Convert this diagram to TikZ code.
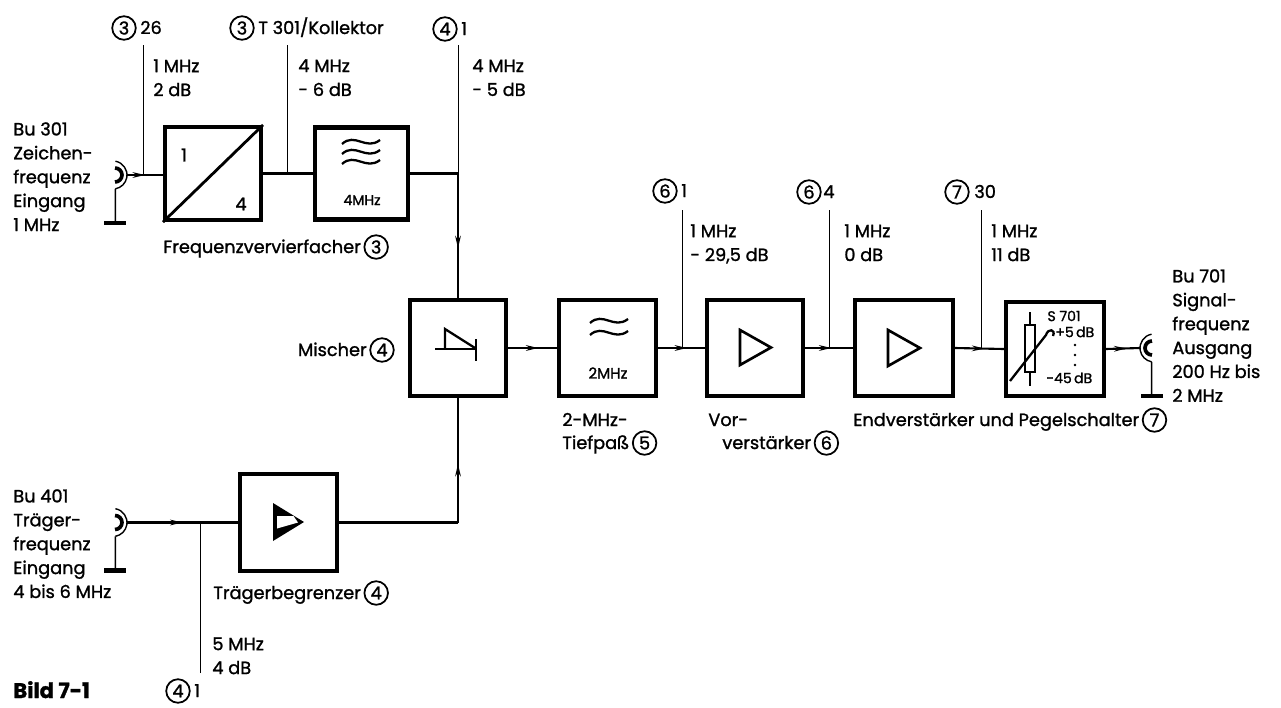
\documentclass[tikz,border=0pt]{standalone}
\usepackage{fontspec}
\setmainfont{Poppins}[FakeBold=1.3]
\usetikzlibrary{arrows.meta,decorations.markings}
\newcommand\lbl{\fontsize{10.1pt}{13.6pt}\selectfont}
\newcommand\smlbl{\fontsize{8pt}{9pt}\selectfont}
\tikzset{
 blk/.style={draw, line width=2.3pt, inner sep=0pt},
 conn/.style={line width=1.2pt},
 probe/.style={line width=0.55pt},
 sym/.style={line width=1.3pt},
 num/.style={circle, draw, line width=1pt, minimum size=13.4pt, inner sep=0pt, font=\lbl},
 txt/.style={inner sep=0pt, font=\lbl, align=left},
 marr/.style={postaction={decorate, decoration={markings, mark=at position #1 with {\arrow{Stealth[length=7pt,width=3.2pt]}}}}},
 jackin/.pic={
   \draw[line width=0.8pt] (-80:14) arc (-80:80:14);
   \draw[line width=2.1pt] (2,-7) arc (-90:90:7);
   \draw[line width=0.9pt] (80:14) -- (2.4,48);
   \draw[line width=2.4pt] (-9,48) -- (13,48);
 }
}
\begin{document}
\begin{tikzpicture}[x=0.02cm,y=-0.02cm]
\useasboundingbox (0,0) rectangle (1281,707);

% ---------- blocks
\node[blk, minimum width=1.92cm, minimum height=1.86cm] (fv) at (213,173.5) {};
\node[blk, minimum width=1.86cm, minimum height=1.84cm] (tp4) at (361.5,173.5) {};
\node[blk, minimum width=1.92cm, minimum height=1.92cm] (mix) at (458,348) {};
\node[blk, minimum width=1.94cm, minimum height=1.92cm] (tp2) at (607.5,348) {};
\node[blk, minimum width=1.92cm, minimum height=1.92cm] (vor) at (755,348) {};
\node[blk, minimum width=1.96cm, minimum height=1.92cm] (end) at (904,348) {};
\node[blk, minimum width=1.96cm, minimum height=1.88cm] (peg) at (1055,349) {};
\node[blk, minimum width=1.94cm, minimum height=1.94cm] (lim) at (288.5,522.5) {};

% ---------- jacks
\pic at (113,175) {jackin};
\pic at (113,522.5) {jackin};
\pic[xscale=-1] at (1154,348) {jackin};
\coordinate (j1) at (127,175);
\coordinate (j2) at (127,522.5);
\coordinate (j3) at (1140,348);

% ---------- connections
\draw[conn, marr=0.5] (j1) -- (j1 -| fv.west);
\draw[conn] (fv.east) -- (tp4.west);
\coordinate (k1) at (458,173.5);
\draw[conn] (tp4.east) -- (k1);
\draw[conn, marr=0.6] (k1) -- (mix.north);
\draw[conn, marr=0.5] (j2) -- (lim.west);
\coordinate (k2) at (458,522.5);
\draw[conn] (lim.east) -- (k2);
\draw[conn, marr=0.47] (k2) -- (mix.south);
\draw[conn, marr=0.62] (mix.east) -- (tp2.west);
\draw[conn, marr=0.62] (tp2.east) -- (vor.west);
\draw[conn, marr=0.55] (vor.east) -- (end.west);
\draw[conn, marr=0.6] (end.east) -- (peg.west);
\draw[conn, marr=0.6] (peg.east) -- (j3);

% ---------- probes
\coordinate (p1) at (143,45);  \draw[probe] (p1) -- (p1 |- j1);
\coordinate (p2) at (287,45);  \draw[probe] (p2) -- (p2 |- fv.east);
\coordinate (p3) at (458,45);  \draw[probe] (p3) -- (k1);
\coordinate (p4) at (682,210); \draw[probe] (p4) -- (p4 |- tp2.east);
\coordinate (p5) at (829,210); \draw[probe] (p5) -- (p5 |- vor.east);
\coordinate (p6) at (981,210); \draw[probe] (p6) -- (p6 |- end.east);
\coordinate (p7) at (200,673); \draw[probe] (p7) -- (p7 |- j2);

% ---------- block symbols
\draw[line width=1.6pt] (fv.south west) -- (fv.north east);
\node[txt] (fv1) at (184,155) {1};
\node[txt] (fv4) at (241,204) {4};
\foreach \yy in {142,152,162}
  \draw[sym] (342,\yy+2) .. controls (355,\yy-10) and (366,\yy+9) .. (380,\yy-2);
\node[inner sep=0pt, font=\smlbl] (f4) at (362,200) {4MHz};
\foreach \yy in {321,333}
  \draw[sym] (590,\yy+2) .. controls (603,\yy-10) and (614,\yy+9) .. (628,\yy-2);
\node[inner sep=0pt, font=\fontsize{8.6pt}{9pt}\selectfont] (f2) at (608,373) {2MHz};
% diode
\draw[sym] (435,349) -- (476,349);
\draw[sym] (445,349) -- (445,329) -- (475,348);
\draw[line width=1.7pt] (476,339) -- (476,361);
% amplifiers
\draw[line width=1.5pt, line join=miter] (740,330) -- (771,347.5) -- (740,365) -- cycle;
\draw[line width=1.5pt, line join=miter] (888,330) -- (920,348) -- (888,366) -- cycle;
% limiter
\fill (273,503) -- (304,522) -- (273,541) -- cycle;
\fill[white] (277,516) -- (293.5,516) -- (298,522.5) -- (277,528.5) -- cycle;
% level switch
\draw[sym] (1025,325) rectangle (1035,372);
\draw[sym] (1030,312) -- (1030,325) (1030,372) -- (1030,386);
\draw[sym] (1010,381) -- (1046,335) .. controls (1048,328) and (1056,329) .. (1053,336);
\node[inner sep=0pt, font=\smlbl] (s1) at (1064,316) {S 701};
\node[inner sep=0pt, font=\smlbl, anchor=west] (s2) at (1055,332) {+5\,dB};
\foreach \yy in {345,355,365} \fill (1075,\yy) circle (1.3);
\node[inner sep=0pt, font=\smlbl, anchor=west] (s3) at (1046,378) {-45\,dB};

% ---------- reference marks
\node[num] (c1) at (124,28) {3};
\node[txt, anchor=base west] (r1) at (140,34) {26};
\node[num] (c2) at (242,28) {3};
\node[txt, anchor=base west] (r2) at (258,34) {T 301/Kollektor};
\node[num] (c3) at (445,29) {4};
\node[txt, anchor=base west] (r3) at (461,35) {1};
\node[num] (c4) at (665,191) {6};
\node[txt, anchor=base west] (r4) at (681,197) {1};
\node[num] (c5) at (809,192) {6};
\node[txt, anchor=base west] (r5) at (823,198) {4};
\node[num] (c6) at (957,192) {7};
\node[txt, anchor=base west] (r6) at (974,198) {30};
\node[num] (c7) at (178,691) {4};
\node[txt, anchor=base west] (r7) at (194,697) {1};

% ---------- probe values
\node[txt, anchor=north west] (v1) at (153,59) {1 MHz\\2 dB};
\node[txt, anchor=north west] (v2) at (298,59) {4 MHz\\- 6 dB};
\node[txt, anchor=north west] (v3) at (472,59) {4 MHz\\- 5 dB};
\node[txt, anchor=north west] (v4) at (690,224) {1 MHz\\- 29,5 dB};
\node[txt, anchor=north west] (v5) at (844,224) {1 MHz\\0 dB};
\node[txt, anchor=north west] (v6) at (991,224) {1 MHz\\11 dB};
\node[txt, anchor=north west] (v7) at (212,637) {5 MHz\\4 dB};

% ---------- jack labels
\node[txt, anchor=north west] (b1) at (13,122) {Bu 301\\Zeichen-\\frequenz\\Eingang\\1 MHz};
\node[txt, anchor=north west] (b2) at (13,489) {Bu 401\\Träger-\\frequenz\\Eingang\\4 bis 6 MHz};
\node[txt, anchor=north west] (b3) at (1172,269) {Bu 701\\Signal-\\frequenz\\Ausgang\\200 Hz bis\\2 MHz};

% ---------- block captions
\node[txt, anchor=base west] (n1) at (163,253) {Frequenzvervierfacher};
\node[num] (m1) at ([shift={(15,-6)}]n1.base east) {3};
\node[txt, anchor=base east] (n2) at (367,356) {Mischer};
\node[num] (m2) at (382,350) {4};
\node[txt, anchor=base west] (n3) at (213,599) {Trägerbegrenzer};
\node[num] (m3) at ([shift={(15,-6)}]n3.base east) {4};
\node[txt, anchor=base west] (n4) at (562,426) {2-MHz-};
\node[txt, anchor=base west] (n5) at (562,449) {Tiefpaß};
\node[num] (m5) at ([shift={(15,-6)}]n5.base east) {5};
\node[txt, anchor=base west] (n6) at (708,426) {Vor-};
\node[txt, anchor=base west] (n7) at (722,449) {verstärker};
\node[num] (m7) at ([shift={(15,-6)}]n7.base east) {6};
\node[txt, anchor=base west] (n8) at (853,426) {Endverstärker und Pegelschalter};
\node[num] (m8) at ([shift={(15,-6)}]n8.base east) {7};
\node[inner sep=0pt, anchor=base west, font=\fontsize{12pt}{14pt}\selectfont\bfseries] (bild) at (13,698) {Bild 7-1};
\end{tikzpicture}
\end{document}
